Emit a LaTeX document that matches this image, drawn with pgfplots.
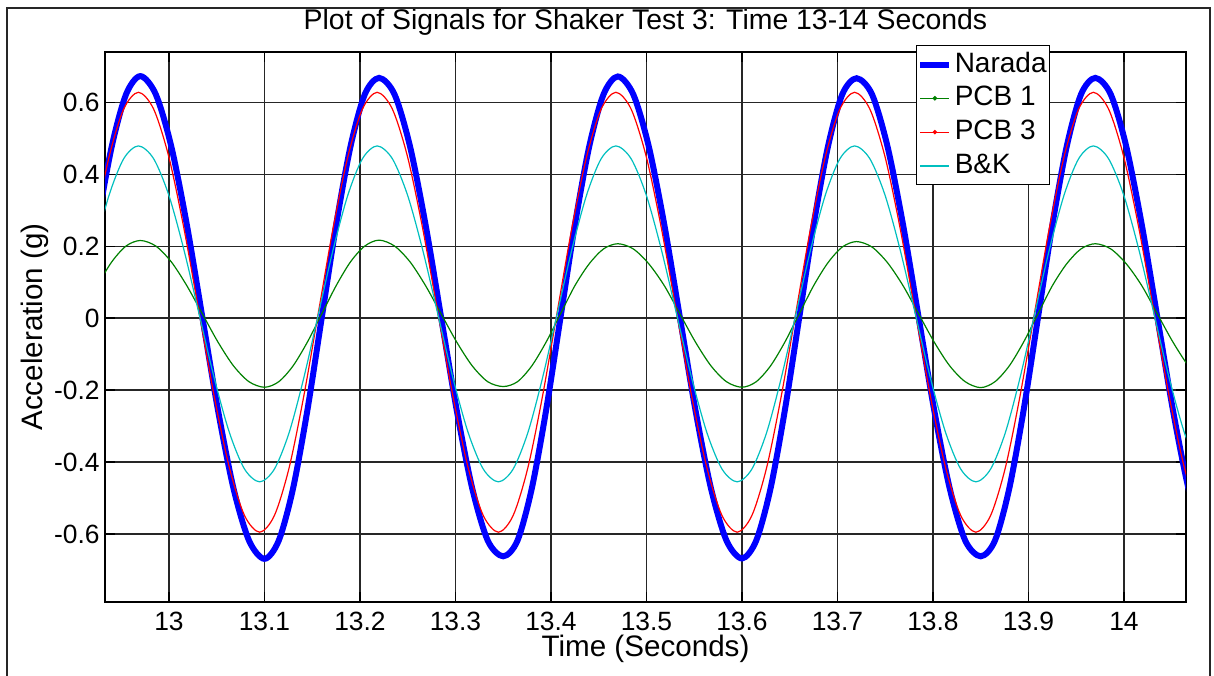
\documentclass[border=0pt]{standalone}
\usepackage{fontspec}
\setmainfont{Liberation Sans}
\usepackage{pgfplots}
\usepackage{pgfplotstable}
\pgfplotsset{compat=1.18}

% Narada and PCB 1 share one time base
\pgfplotstableread{
t        narada   pcb1
12.895   -0.2548  -0.0661
12.910    0.002    0.012
12.925    0.2588   0.0901
12.940    0.4765   0.1563
12.955    0.6219   0.2005
12.970    0.673    0.216
12.98625  0.6219   0.2005
13.0025   0.4765   0.1563
13.01875  0.2588   0.0901
13.035    0.002    0.012
13.05125 -0.2548  -0.0661
13.0675  -0.4725  -0.1323
13.08375 -0.6179  -0.1765
13.100   -0.669   -0.192
13.115   -0.6179  -0.1765
13.130   -0.4725  -0.1323
13.145   -0.2548  -0.0661
13.160    0.002    0.012
13.175    0.2588   0.0901
13.190    0.4765   0.1563
13.205    0.6219   0.2005
13.220    0.668    0.217
13.23625  0.6219   0.2005
13.2525   0.4765   0.1563
13.26875  0.2588   0.0901
13.285    0.002    0.012
13.30125 -0.2548  -0.0661
13.3175  -0.4725  -0.1323
13.33375 -0.6179  -0.1765
13.350   -0.662   -0.190
13.365   -0.6179  -0.1765
13.380   -0.4725  -0.1323
13.395   -0.2548  -0.0661
13.410    0.002    0.012
13.425    0.2588   0.0901
13.440    0.4765   0.151
13.455    0.6219   0.1925
13.470    0.672    0.207
13.48625  0.6219   0.1925
13.5025   0.4765   0.151
13.51875  0.2588   0.0901
13.535    0.002    0.012
13.55125 -0.2548  -0.0661
13.5675  -0.4725  -0.1323
13.58375 -0.6179  -0.1765
13.600   -0.668   -0.192
13.615   -0.6179  -0.1765
13.630   -0.4725  -0.1323
13.645   -0.2548  -0.0661
13.660    0.002    0.012
13.675    0.2588   0.0901
13.690    0.4765   0.154
13.705    0.6219   0.1977
13.720    0.667    0.213
13.73625  0.6219   0.1977
13.7525   0.4765   0.154
13.76875  0.2588   0.0901
13.785    0.002    0.012
13.80125 -0.2548  -0.0661
13.8175  -0.4725  -0.1323
13.83375 -0.6179  -0.1765
13.850   -0.662   -0.193
13.865   -0.6179  -0.1765
13.880   -0.4725  -0.1323
13.895   -0.2548  -0.0661
13.910    0.002    0.012
13.925    0.2588   0.0901
13.940    0.4765   0.151
13.955    0.6219   0.1925
13.970    0.668    0.207
13.98625  0.6219   0.1925
14.0025   0.4765   0.151
14.01875  0.2588   0.0901
14.035    0.002    0.012
14.05125 -0.2548  -0.0661
14.0675  -0.4725  -0.1323
14.08375 -0.6179  -0.1765
}\tblNP

% PCB 3 and B&K share the other time base
\pgfplotstableread{
t        pcb3     bk
12.8911  -0.2175  -0.1667
12.9065   0.0165   0.012
12.9219   0.2505   0.1907
12.9373   0.4489   0.3422
12.9526   0.5815   0.4434
12.968    0.628    0.479
12.9839   0.5815   0.4434
12.9998   0.4489   0.3422
13.0156   0.2505   0.1907
13.0315   0.0165   0.012
13.0474  -0.2175  -0.1667
13.0633  -0.4159  -0.3182
13.0791  -0.5485  -0.4194
13.095   -0.595   -0.455
13.1104  -0.5485  -0.4194
13.1258  -0.4159  -0.3182
13.1411  -0.2175  -0.1667
13.1565   0.0165   0.012
13.1719   0.2505   0.1907
13.1873   0.4489   0.3422
13.2026   0.5815   0.4434
13.218    0.628    0.479
13.2339   0.5815   0.4434
13.2498   0.4489   0.3422
13.2656   0.2505   0.1907
13.2815   0.0165   0.012
13.2974  -0.2175  -0.1667
13.3133  -0.4159  -0.3182
13.3291  -0.5485  -0.4194
13.345   -0.595   -0.455
13.3604  -0.5485  -0.4194
13.3758  -0.4159  -0.3182
13.3911  -0.2175  -0.1667
13.4065   0.0165   0.012
13.4219   0.2505   0.1907
13.4373   0.4489   0.3422
13.4526   0.5815   0.4434
13.468    0.628    0.479
13.4839   0.5815   0.4434
13.4998   0.4489   0.3422
13.5156   0.2505   0.1907
13.5315   0.0165   0.012
13.5474  -0.2175  -0.1667
13.5633  -0.4159  -0.3182
13.5791  -0.5485  -0.4194
13.595   -0.595   -0.455
13.6104  -0.5485  -0.4194
13.6258  -0.4159  -0.3182
13.6411  -0.2175  -0.1667
13.6565   0.0165   0.012
13.6719   0.2505   0.1907
13.6873   0.4489   0.3422
13.7026   0.5815   0.4434
13.718    0.628    0.479
13.7339   0.5815   0.4434
13.7498   0.4489   0.3422
13.7656   0.2505   0.1907
13.7815   0.0165   0.012
13.7974  -0.2175  -0.1667
13.8133  -0.4159  -0.3182
13.8291  -0.5485  -0.4194
13.845   -0.595   -0.455
13.8604  -0.5485  -0.4194
13.8758  -0.4159  -0.3182
13.8911  -0.2175  -0.1667
13.9065   0.0165   0.012
13.9219   0.2505   0.1907
13.9373   0.4489   0.3422
13.9526   0.5815   0.4434
13.968    0.628    0.479
13.9839   0.5815   0.4434
13.9998   0.4489   0.3422
14.0156   0.2505   0.1907
14.0315   0.0165   0.012
14.0474  -0.2175  -0.1667
14.0633  -0.4159  -0.3182
14.0791  -0.5485  -0.4194
}\tblPB

\definecolor{mlgreen}{rgb}{0,0.5,0}
\definecolor{mlcyan}{rgb}{0,0.75,0.75}

% legend sample: a short line, optionally with a point marker in its middle
\pgfplotsset{
  lineleg/.style={legend image code/.code={\draw[##1] (0pt,0pt) -- (14.5pt,0pt);}},
  dotleg/.style={legend image code/.code={\draw[##1] (0pt,0pt) -- (14.5pt,0pt);
      \fill[##1] (7.25pt,0pt) circle (0.8pt);}},
}

\begin{document}
\begin{tikzpicture}
\begin{axis}[
  at={(52.5pt,36.5pt)}, anchor=south west,
  scale only axis, width=540.5pt, height=275pt,
  xmin=12.933, xmax=14.065, ymin=-0.789, ymax=0.740,
  xtick={13,13.1,13.2,13.3,13.4,13.5,13.6,13.7,13.8,13.9,14},
  xticklabels={13,13.1,13.2,13.3,13.4,13.5,13.6,13.7,13.8,13.9,14},
  ytick={-0.6,-0.4,-0.2,0,0.2,0.4,0.6},
  yticklabels={-0.6,-0.4,-0.2,0,0.2,0.4,0.6},
  tick align=inside, major tick length=5pt,
  tick style={black, line width=0.7pt},
  grid=major, major grid style={black!85, line width=0.7pt},
  axis line style={black, line width=0.7pt},
  ticklabel style={font=\fontsize{13.2}{15}\selectfont},
  xticklabel style={anchor=base, yshift=-14.35pt, inner sep=0pt},
  yticklabel style={anchor=east, inner sep=0pt, xshift=-2.5pt},
  title={Plot of Signals for Shaker Test 3: Time 13-14 Seconds},
  title style={at={(axis description cs:0.5,1)}, anchor=base, yshift=5.2pt,
    inner sep=0pt, font=\fontsize{14.2}{16}\selectfont},
  xlabel={Time (Seconds)},
  xlabel style={at={(axis description cs:0.5,0)}, anchor=base, yshift=-27.35pt,
    inner sep=0pt, font=\fontsize{14.8}{17}\selectfont},
  ylabel={Acceleration (g)},
  ylabel style={at={(axis description cs:-0.0574,0.5)}, anchor=base,
    inner sep=0pt, font=\fontsize{14.8}{17}\selectfont},
  legend cell align=left,
  legend style={at={(0.7502,1.0127)}, anchor=north west, draw=black,
    line width=0.6pt, fill=white, inner xsep=0.4pt, inner ysep=1pt,
    font=\fontsize{14}{16}\selectfont, row sep=0pt,
    nodes={inner sep=1.2pt, text height=11pt, text depth=3.5pt}},
  lineleg,
]
\addplot[blue, line width=3pt, smooth] table[x=t, y=narada] {\tblNP};
\addlegendentry{Narada}
\addplot[mlgreen, line width=0.6pt, smooth, dotleg] table[x=t, y=pcb1] {\tblNP};
\addlegendentry{PCB 1}
\addplot[red, line width=0.6pt, smooth, dotleg] table[x=t, y=pcb3] {\tblPB};
\addlegendentry{PCB 3}
\addplot[mlcyan, line width=0.6pt, smooth] table[x=t, y=bk] {\tblPB};
\addlegendentry{B\&K}
\end{axis}
% figure frame
\draw[black!85, line width=1pt] (3.5pt,-5pt) rectangle (605pt,333.5pt);
\pgfresetboundingbox
\useasboundingbox (0pt,0pt) rectangle (607pt,337.5pt);
\end{tikzpicture}
\end{document}
